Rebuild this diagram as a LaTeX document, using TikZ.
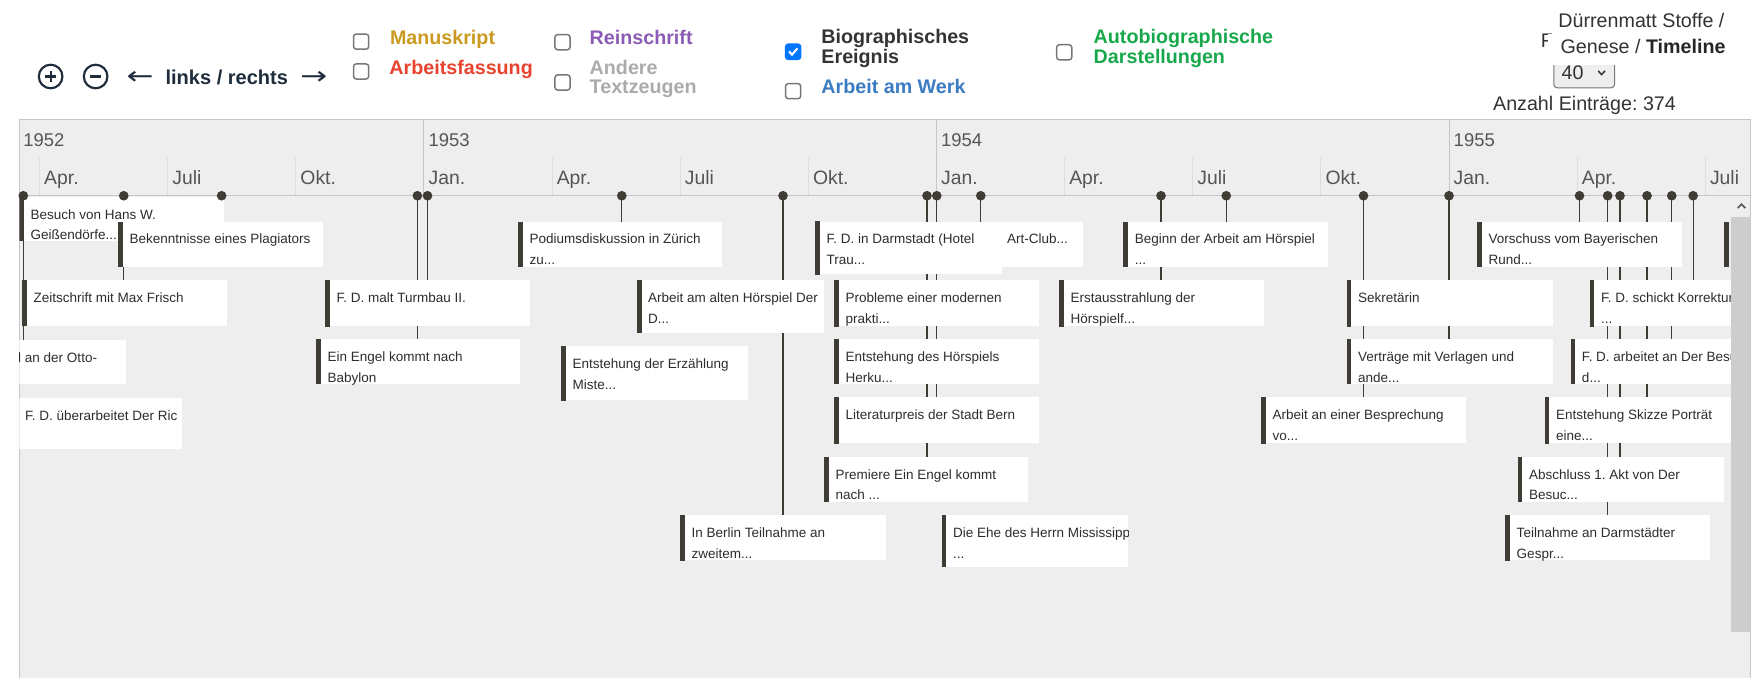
\documentclass[tikz,border=0pt]{standalone}
\usepackage{fontspec}
\setmainfont{Liberation Sans}
\newfontfamily\arrowfont{DejaVu Sans}
\usepackage{graphicx}
\usepackage{xcolor}
\usepackage{tikz}
\usetikzlibrary{positioning}
\frenchspacing
\definecolor{navcolor}{HTML}{1E2C3C}
\definecolor{manucolor}{HTML}{C99A1F}
\definecolor{arbcolor}{HTML}{E8432F}
\definecolor{reincolor}{HTML}{8B5BB5}
\definecolor{anderecolor}{HTML}{ABABAB}
\definecolor{biocolor}{HTML}{333333}
\definecolor{werkcolor}{HTML}{3A7BC1}
\definecolor{autocolor}{HTML}{17A84B}
\definecolor{boxframe}{HTML}{767676}
\definecolor{checkblue}{HTML}{0075FF}
\definecolor{panelfill}{HTML}{EEEEEE}
\definecolor{panelframe}{HTML}{C6C6C6}
\definecolor{monthtick}{HTML}{DDDDDD}
\definecolor{scaletext}{HTML}{555555}
\definecolor{itemdark}{HTML}{3F3B35}
\definecolor{itemtext}{HTML}{2D2D2D}
\definecolor{thumb}{HTML}{CDCDCD}
\pgfdeclarelayer{panel}
\pgfdeclarelayer{stems}
\pgfsetlayers{panel,stems,main}
\tikzstyle{zoombutton} = [circle, draw=navcolor, line width=1.9pt, minimum size=21pt, inner sep=0pt]
\tikzstyle{plusbutton} = [zoombutton, path picture={\draw[navcolor, line width=2pt]
    ([xshift=-4.8pt]path picture bounding box.center) -- ([xshift=4.8pt]path picture bounding box.center)
    ([yshift=-4.8pt]path picture bounding box.center) -- ([yshift=4.8pt]path picture bounding box.center);}]
\tikzstyle{minusbutton} = [zoombutton, path picture={\draw[navcolor, line width=2pt]
    ([xshift=-4.8pt]path picture bounding box.center) -- ([xshift=4.8pt]path picture bounding box.center);}]
\tikzstyle{navtext} = [text=navcolor, font=\fontsize{17.8}{20}\selectfont\bfseries, inner sep=0pt, anchor=base west]
\tikzstyle{navarrow} = [text=navcolor, font=\fontsize{22}{22}\arrowfont, inner sep=0pt]
\tikzstyle{checkbox} = [draw=boxframe, line width=1.3pt, rounded corners=2.5pt, minimum size=13.5pt, inner sep=0pt]
\tikzstyle{checked} = [checkbox, draw=checkblue, fill=checkblue, path picture={\draw[white, line width=1.8pt, sharp corners]
    ([shift={(-3.6pt,0.3pt)}]path picture bounding box.center) -- ([shift={(-1pt,-2.6pt)}]path picture bounding box.center)
    -- ([shift={(3.8pt,3pt)}]path picture bounding box.center);}]
\tikzstyle{legend} = [font=\fontsize{17.5}{17}\selectfont\bfseries, inner sep=0pt, anchor=base west]
\tikzstyle{infotext} = [font=\fontsize{17.5}{20}\selectfont, text=biocolor, inner sep=0pt]
\tikzstyle{selectbox} = [draw=boxframe, fill=panelfill, line width=0.9pt, rounded corners=3pt, inner sep=0pt]
\tikzstyle{yearlabel} = [font=\fontsize{16.4}{18}\selectfont, text=scaletext, inner sep=0pt, anchor=base west]
\tikzstyle{monthlabel} = [font=\fontsize{17.2}{18}\selectfont, text=scaletext, inner sep=0pt, anchor=base west]
\tikzstyle{stem} = [draw=itemdark, line width=1pt]
\tikzstyle{dot} = [circle, fill=itemdark, inner sep=0pt, minimum size=8.6pt]
\tikzstyle{item} = [rectangle, fill=white, inner sep=0pt, anchor=north west]
\tikzstyle{itemline} = [font=\fontsize{12}{14}\selectfont, text=itemtext, inner sep=0pt, anchor=base west]
\newcommand{\twoline}[2]{\begin{tabular}[t]{@{}l@{}}#1\\#2\end{tabular}}
% x, y, width, height, name, first line, second line
\newcommand{\entry}[7]{%
  \node[item, minimum width=#3pt, minimum height=#4pt] (#5) at (#1,#2) {};
  \begin{scope}
    \clip (#5.north west) rectangle (#5.south east);
    \node[itemline] (#5-a) at ([xshift=10pt,yshift=-19.8pt]#5.north west) {#6};
    \node[itemline] (#5-b) at ([xshift=10pt,yshift=-38.3pt]#5.north west) {#7};
  \end{scope}
  \fill[itemdark] (#5.north west) rectangle ([xshift=4.3pt]#5.south west);
}
\begin{document}
\begin{tikzpicture}[x=1pt, y=-1pt]
  \useasboundingbox (0,0) rectangle (1568,602);
  % Toolbar
  \node[plusbutton] (zoomin) at (45,68) {};
  \node[minusbutton] (zoomout) at (85,68) {};
  \node[navarrow] (leftarrow) at (124.5,69.6) {\scalebox{1.3}[1]{←}};
  \node[navtext] (leftright) at (147,74.7) {links / rechts};
  \node[navarrow] (rightarrow) at (279,69.6) {\scalebox{1.3}[1]{→}};
  % Legend
  \node[checkbox] (cbmanu) at (321,37) {};
  \node[legend, text=manucolor] (manu) at (346.5,39.5) {Manuskript};
  \node[checkbox] (cbarb) at (321,63.5) {};
  \node[legend, text=arbcolor] (arb) at (346,66) {Arbeitsfassung};
  \node[checkbox] (cbrein) at (500,37.5) {};
  \node[legend, text=reincolor] (rein) at (524,39.5) {Reinschrift};
  \node[checkbox] (cbandere) at (500,73.3) {};
  \node[legend, text=anderecolor] (andere) at (524,66) {\twoline{Andere}{Textzeugen}};
  \node[checked] (cbbio) at (705,46) {};
  \node[legend, text=biocolor] (bio) at (730,39) {\twoline{Biographisches}{Ereignis}};
  \node[checkbox] (cbwerk) at (705,81) {};
  \node[legend, text=werkcolor] (werk) at (730,83) {Arbeit am Werk};
  \node[checkbox] (cbauto) at (946,46.5) {};
  \node[legend, text=autocolor] (auto) at (972,39) {\twoline{Autobiographische}{Darstellungen}};
  % Info block
  \node[selectbox, minimum width=54pt, minimum height=28pt, anchor=south west] (select) at (1380.7,78.5) {};
  \node[infotext, anchor=base west] (pagesize) at (1388,71) {40};
  \draw[biocolor, line width=1.3pt] (1420.6,63) -- (1423.6,66.3) -- (1426.7,63);
  \node[infotext, anchor=base west] (hidden) at (1369.5,41.8) {F};
  \fill[white] (1376,30) rectangle (1545,57.5);
  \node[infotext, anchor=base east] (genese) at (1534,47.4) {Genese / \textbf{\color{black!85}Timeline}};
  \node[infotext, anchor=base east] (stoffe) at (1533,24.3) {Dürrenmatt Stoffe /};
  \node[infotext, anchor=base west] (count) at (1327,98.4) {Anzahl Einträge: 374};
  % Timeline frame and scale
  \begin{pgfonlayer}{panel}
    \node[draw=panelframe, fill=panelfill, line width=0.9pt, inner sep=0pt, anchor=north west,
          minimum width=1539.1pt, minimum height=520pt] (panel) at (16.5,105.8) {};
    \foreach \x/\m in {35.1/Apr., 149/Juli, 262.9/Okt., 490.7/Apr., 604.6/Juli, 718.5/Okt.,
                       946.3/Apr., 1060.2/Juli, 1174.1/Okt., 1401.9/Apr., 1515.8/Juli} {
      \draw[monthtick, line width=0.9pt] (\x,140.6) -- (\x,174);
      \node[monthlabel] at (\x+4,164.4) {\m};
    }
    \foreach \x in {376.8, 832.4, 1288} {
      \draw[panelframe, line width=0.9pt] (\x,105.8) -- (\x,174);
      \node[monthlabel] at (\x+4,164.4) {Jan.};
    }
    \node[yearlabel] (y1952) at (20.5,130.4) {1952};
    \node[yearlabel] (y1953) at (380.8,130.4) {1953};
    \node[yearlabel] (y1954) at (836.4,130.4) {1954};
    \node[yearlabel] (y1955) at (1292,130.4) {1955};
    \coordinate (axisleft) at (16.5,174);
    \coordinate (axisright) at (1555.6,174);
    \draw[panelframe, line width=1.2pt] (axisleft) -- (axisright);
  \end{pgfonlayer}
  % Items
  \begin{scope}
    \clip (17.2,174.6) rectangle (1538.7,602);
    \entry{17}{175}{182}{39}{besuch}{Besuch von Hans W.}{Geißendörfe...}
    \entry{105}{197}{182}{40}{plagiat}{Bekenntnisse eines Plagiators}{}
    \entry{19.7}{249}{182.3}{40.5}{frisch}{Zeitschrift mit Max Frisch}{}
    \entry{2}{302}{110}{39}{otto}{d an der Otto-}{}
    \entry{12.2}{354}{149.8}{45}{richter}{F. D. überarbeitet Der Ric}{}
    \entry{460.5}{197}{181.5}{40}{podium}{Podiumsdiskussion in Zürich}{zu...}
    \entry{289}{249}{182}{41}{turmbau}{F. D. malt Turmbau II.}{}
    \entry{281}{301.5}{181}{39.5}{babylon}{Ein Engel kommt nach}{Babylon}
    \entry{566}{249}{166}{47}{hoerspiel}{Arbeit am alten Hörspiel Der}{D...}
    \entry{498.7}{307.6}{166.3}{48}{mister}{Entstehung der Erzählung}{Miste...}
    \entry{604.6}{458}{182.4}{40}{berlin}{In Berlin Teilnahme an}{zweitem...}
    \entry{885}{197}{77.7}{40}{artclub}{Art-Club...}{}
    \entry{724.5}{196.7}{166}{47}{darmstadt}{F. D. in Darmstadt (Hotel}{Trau...}
    \entry{741.5}{249}{182}{41}{probleme}{Probleme einer modernen}{prakti...}
    \entry{741.5}{301.5}{182}{39.5}{herkules}{Entstehung des Hörspiels}{Herku...}
    \entry{741.5}{353}{182}{41}{bern}{Literaturpreis der Stadt Bern}{}
    \entry{732.5}{406}{181.5}{40}{premiere}{Premiere Ein Engel kommt}{nach ...}
    \entry{837}{458}{165.7}{46}{ehe}{Die Ehe des Herrn Mississipp}{...}
    \entry{998.5}{197}{181.5}{40}{beginn}{Beginn der Arbeit am Hörspiel}{...}
    \entry{941.5}{249}{181.5}{41}{sendung}{Erstausstrahlung der}{Hörspielf...}
    \entry{1313}{197}{182}{40}{vorschuss}{Vorschuss vom Bayerischen}{Rund...}
    \entry{1197}{249}{183}{41}{sekretaerin}{Sekretärin}{}
    \entry{1197}{301.5}{183}{39.5}{vertraege}{Verträge mit Verlagen und}{ande...}
    \entry{1121}{353}{182}{41}{besprechung}{Arbeit an einer Besprechung}{vo...}
    \entry{1413}{249}{182}{41}{korrektur}{F. D. schickt Korrektur}{...}
    \entry{1396}{301.5}{182}{39.5}{besuchdame}{F. D. arbeitet an Der Besu}{d...}
    \entry{1373}{353}{182}{41}{skizze}{Entstehung Skizze Porträt}{eine...}
    \entry{1349}{406}{183}{40}{abschluss}{Abschluss 1. Akt von Der}{Besuc...}
    \entry{1338}{458}{182}{40}{darmgespr}{Teilnahme an Darmstädter}{Gespr...}
    \entry{1532.5}{197}{4.3}{40}{rand}{}{}
  \end{scope}
  \fill[itemdark] (besuch.north west) rectangle ([xshift=4.3pt,yshift=1.5pt]besuch.north west);
  % Dots and stems
  \node[dot] (dot-extra) at (197,174) {};
  \foreach \x/\target in {20.7/otto, 110/frisch, 371/babylon, 380/turmbau, 552.7/podium, 696/berlin,
                          824/premiere, 832.7/bern, 871.8/artclub, 1032/sendung, 1090/beginn,
                          1212/besprechung, 1288/vertraege, 1404/vorschuss, 1429/darmgespr,
                          1440/abschluss, 1464/skizze, 1486/besuchdame, 1505/korrektur} {
    \node[dot] (dot-\target) at (\x,174) {};
    \begin{pgfonlayer}{stems}
      \draw[stem] (dot-\target.center) -- (dot-\target.center |- \target.north);
    \end{pgfonlayer}
  }
  % Scrollbar
  \fill[panelfill] (1538.7,174.8) rectangle (1555.1,602);
  \fill[thumb] (1538.7,192.6) rectangle (1555.1,561.5);
  \draw[scaletext, line width=1.4pt] (1544.6,185) -- (1548,181.6) -- (1551.4,185);
\end{tikzpicture}
\end{document}
